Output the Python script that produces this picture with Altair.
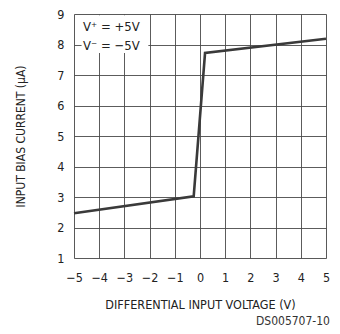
import altair as alt
import pandas as pd

# Data
voltage = [-5.0, -0.25, 0.2, 5.0]
current = [2.47, 3.02, 7.72, 8.19]

x_ticks = [-5, -4, -3, -2, -1, 0, 1, 2, 3, 4, 5]
y_ticks = [1, 2, 3, 4, 5, 6, 7, 8, 9]

ann_lines = ["V\u207a = +5V", "V\u207b = \u22125V"]
ann_y = [8.58, 7.96]

FONT = "Liberation Sans Narrow, DejaVu Sans Condensed, Liberation Sans, sans-serif"

df = pd.DataFrame({"v": voltage, "i": current})

xs = alt.Scale(domain=[-5, 5], nice=False, zero=False)
ys = alt.Scale(domain=[1, 9], nice=False, zero=False)

x_axis = alt.Axis(values=x_ticks, title="DIFFERENTIAL INPUT VOLTAGE (V)",
                  ticks=False, labelPadding=13, labelFontSize=12.5,
                  labelOverlap=False, labelFlush=False,
                  labelColor="#222", labelFont=FONT,
                  labelExpr="replace(datum.label, '-', '\u2212')",
                  titleFont=FONT, titleFontSize=12.5, titleFontWeight="normal",
                  titleColor="#222", titleY=46, titleBaseline="middle",
                  grid=True, gridColor="#4a4a4a", gridWidth=0.9,
                  domain=False)
y_axis = alt.Axis(values=y_ticks, title="INPUT BIAS CURRENT (\u03bcA)",
                  ticks=False, labelPadding=10, labelFontSize=12.5,
                  labelOverlap=False, labelFlush=False,
                  labelColor="#222", labelFont=FONT,
                  titleFont=FONT, titleFontSize=12, titleFontWeight="normal",
                  titleColor="#222", titleX=-54, titleY=122,
                  titleAlign="center", titleBaseline="middle", titleAngle=270,
                  grid=True, gridColor="#4a4a4a", gridWidth=0.9,
                  domain=False)

box = alt.Chart(pd.DataFrame({"x": [-4.7], "x2": [-2.05], "y": [7.72], "y2": [8.96]})).mark_rect(
    color="white").encode(x=alt.X("x:Q", scale=xs, axis=x_axis), x2="x2:Q",
                          y=alt.Y("y:Q", scale=ys, axis=y_axis), y2="y2:Q")

line = alt.Chart(df).mark_line(color="#3a3a3a", strokeWidth=2.6).encode(
    x=alt.X("v:Q", scale=xs, axis=x_axis),
    y=alt.Y("i:Q", scale=ys, axis=y_axis),
)

ann = alt.Chart(pd.DataFrame({"t": ann_lines, "y": ann_y, "x": [-4.64, -4.64]})).mark_text(
    align="left", baseline="middle", fontSize=13, font=FONT, color="#222").encode(
    x=alt.X("x:Q", scale=xs, axis=x_axis), y=alt.Y("y:Q", scale=ys, axis=y_axis), text="t:N")

ds = alt.Chart(pd.DataFrame({"t": ["DS005707-10"]})).mark_text(
    align="right", baseline="middle", fontSize=12, font=FONT, color="#333").encode(
    x=alt.value(256), y=alt.value(307), text="t:N")

chart = alt.layer(box, line, ann, ds).properties(
    width=252, height=244,
    autosize=alt.AutoSizeParams(type="none"),
    padding={"left": 66, "top": 6, "right": 6, "bottom": 72},
).configure_view(stroke="#222", strokeWidth=1.5).configure(background="white")

chart.save("out.html", embed_options={"renderer": "svg", "actions": False})
